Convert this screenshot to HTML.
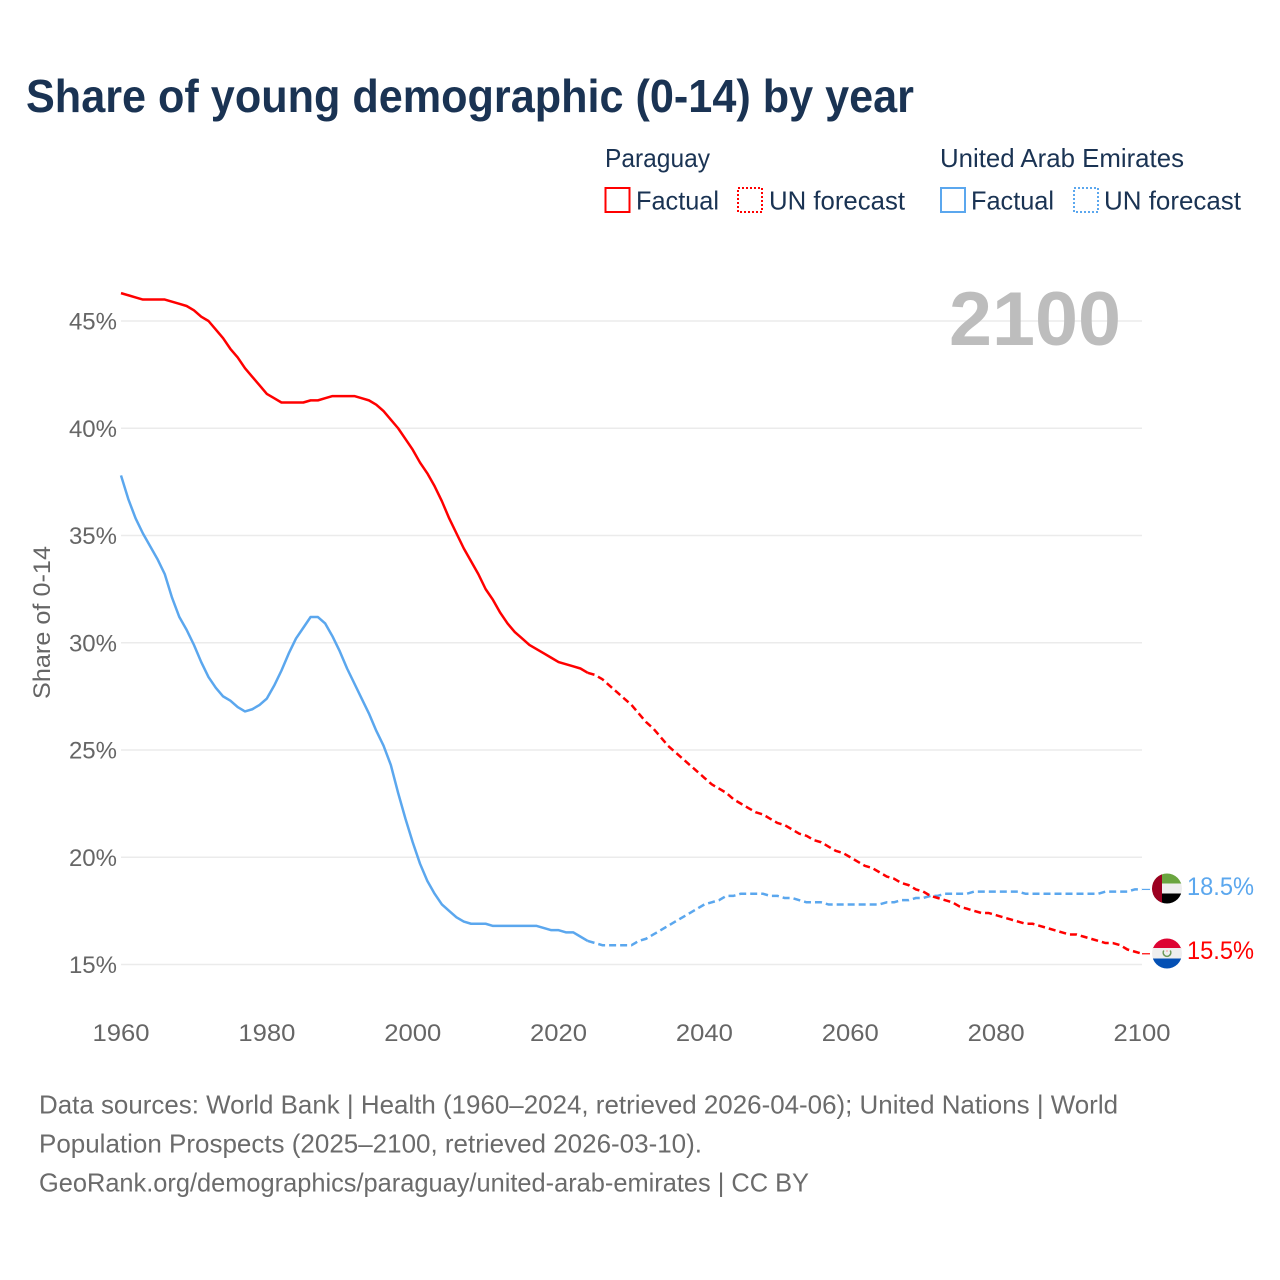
<!DOCTYPE html>
<html lang="en">
<head>
<meta charset="utf-8">
<title>Share of young demographic (0-14) by year</title>
<style>
html,body{margin:0;padding:0;background:#fff;}
#chart{display:block;width:1280px;height:1280px;font-family:"Liberation Sans",sans-serif;}
</style>
</head>
<body>
<svg id="chart" xmlns="http://www.w3.org/2000/svg" width="1280" height="1280" viewBox="0 0 1280 1280">
  <defs>
    <clipPath id="clip-uae"><circle cx="1167" cy="888.5" r="15"/></clipPath>
    <clipPath id="clip-py"><circle cx="1167" cy="953.5" r="15"/></clipPath>
  </defs>
  <rect width="1280" height="1280" fill="#fff"/>
  <text x="26" y="112" font-size="46" font-weight="700" fill="#1a3353" textLength="888" lengthAdjust="spacingAndGlyphs">Share of young demographic (0-14) by year</text>

  <g font-size="26" fill="#1a3353">
    <text x="605" y="167" textLength="105" lengthAdjust="spacingAndGlyphs">Paraguay</text>
    <rect x="605.5" y="188" width="24" height="24" fill="none" stroke="#ff0000" stroke-width="2"/>
    <text x="636" y="209.5" textLength="83" lengthAdjust="spacingAndGlyphs">Factual</text>
    <rect x="738" y="188" width="24" height="24" fill="none" stroke="#ff0000" stroke-width="2" stroke-dasharray="2 2"/>
    <text x="769" y="209.5" textLength="136" lengthAdjust="spacingAndGlyphs">UN forecast</text>
    <text x="940" y="167" textLength="244" lengthAdjust="spacingAndGlyphs">United Arab Emirates</text>
    <rect x="941" y="188" width="24" height="24" fill="none" stroke="#5ba7ee" stroke-width="2"/>
    <text x="971" y="209.5" textLength="83" lengthAdjust="spacingAndGlyphs">Factual</text>
    <rect x="1074" y="188" width="24" height="24" fill="none" stroke="#5ba7ee" stroke-width="2" stroke-dasharray="2 2"/>
    <text x="1104" y="209.5" textLength="137" lengthAdjust="spacingAndGlyphs">UN forecast</text>
  </g>

  <g id="grid"></g>
  <g id="y-ticks"></g>
  <g id="x-ticks"></g>
  <text transform="translate(50,622.5) rotate(-90)" text-anchor="middle" font-size="24" fill="#666666" textLength="153" lengthAdjust="spacingAndGlyphs">Share of 0-14</text>
  <text x="949" y="345" font-size="76" font-weight="700" fill="#bdbdbd" textLength="172" lengthAdjust="spacingAndGlyphs">2100</text>
  <g id="series"></g>

  <g clip-path="url(#clip-uae)">
    <rect x="1152" y="873" width="30" height="11" fill="#6aa53f"/>
    <rect x="1152" y="883.5" width="30" height="10.5" fill="#eeeeee"/>
    <rect x="1152" y="893.5" width="30" height="11" fill="#000000"/>
    <rect x="1152" y="873" width="10" height="31" fill="#9c0020"/>
  </g>
  <g clip-path="url(#clip-py)">
    <rect x="1152" y="938" width="30" height="11" fill="#dd0433"/>
    <rect x="1152" y="948" width="30" height="11" fill="#eeeeee"/>
    <rect x="1152" y="958.5" width="30" height="11" fill="#0450b4"/>
    <path d="M1163.8 950.5 A3.8 3.8 0 1 0 1170.2 950.5" fill="none" stroke="#6f9a5a" stroke-width="1.6"/>
    <circle cx="1167" cy="951" r="1" fill="#f5b5b5"/>
  </g>
  <text id="value-uae" x="1187" y="895" font-size="25" fill="#5ba7ee" textLength="67" lengthAdjust="spacingAndGlyphs"></text>
  <text id="value-py" x="1187" y="959" font-size="25" fill="#ff0000" textLength="67" lengthAdjust="spacingAndGlyphs"></text>

  <g font-size="26" fill="#6b6b6b">
    <text x="39" y="1113.5" textLength="1079" lengthAdjust="spacingAndGlyphs">Data sources: World Bank | Health (1960–2024, retrieved 2026-04-06); United Nations | World</text>
    <text x="39" y="1152.5" textLength="663" lengthAdjust="spacingAndGlyphs">Population Prospects (2025–2100, retrieved 2026-03-10).</text>
    <text x="39" y="1191.5" textLength="770" lengthAdjust="spacingAndGlyphs">GeoRank.org/demographics/paraguay/united-arab-emirates | CC BY</text>
  </g>
</svg>
<script>
const yTickValues = [15, 20, 25, 30, 35, 40, 45];
const xTickYears = [1960, 1980, 2000, 2020, 2040, 2060, 2080, 2100];
const factualStartYear = 1960;
const forecastStartYear = 2024;
const paraguayFactual = [46.3,46.2,46.1,46.0,46.0,46.0,46.0,45.9,45.8,45.7,45.5,45.2,45.0,44.6,44.2,43.7,43.3,42.8,42.4,42.0,41.6,41.4,41.2,41.2,41.2,41.2,41.3,41.3,41.4,41.5,41.5,41.5,41.5,41.4,41.3,41.1,40.8,40.4,40.0,39.5,39.0,38.4,37.9,37.3,36.6,35.8,35.1,34.4,33.8,33.2,32.5,32.0,31.4,30.9,30.5,30.2,29.9,29.7,29.5,29.3,29.1,29.0,28.9,28.8,28.6];
const paraguayForecast = [28.6,28.5,28.3,28.0,27.7,27.4,27.1,26.7,26.3,26.0,25.6,25.2,24.9,24.6,24.3,24.0,23.7,23.4,23.2,23.0,22.7,22.5,22.3,22.1,22.0,21.8,21.6,21.5,21.3,21.1,21.0,20.8,20.7,20.5,20.3,20.2,20.0,19.8,19.6,19.5,19.3,19.1,19.0,18.8,18.7,18.5,18.4,18.2,18.1,18.0,17.9,17.7,17.6,17.5,17.4,17.4,17.3,17.2,17.1,17.0,16.9,16.9,16.8,16.7,16.6,16.5,16.4,16.4,16.3,16.2,16.1,16.0,16.0,15.9,15.7,15.6,15.5];
const uaeFactual = [37.8,36.7,35.8,35.1,34.5,33.9,33.2,32.1,31.2,30.6,29.9,29.1,28.4,27.9,27.5,27.3,27.0,26.8,26.9,27.1,27.4,28.0,28.7,29.5,30.2,30.7,31.2,31.2,30.9,30.3,29.6,28.8,28.1,27.4,26.7,25.9,25.2,24.3,23.0,21.8,20.7,19.7,18.9,18.3,17.8,17.5,17.2,17.0,16.9,16.9,16.9,16.8,16.8,16.8,16.8,16.8,16.8,16.8,16.7,16.6,16.6,16.5,16.5,16.3,16.1];
const uaeForecast = [16.1,16.0,15.9,15.9,15.9,15.9,15.9,16.1,16.2,16.4,16.6,16.8,17.0,17.2,17.4,17.6,17.8,17.9,18.0,18.2,18.2,18.3,18.3,18.3,18.3,18.2,18.2,18.1,18.1,18.0,17.9,17.9,17.9,17.8,17.8,17.8,17.8,17.8,17.8,17.8,17.8,17.9,17.9,18.0,18.0,18.1,18.1,18.2,18.2,18.3,18.3,18.3,18.3,18.4,18.4,18.4,18.4,18.4,18.4,18.4,18.3,18.3,18.3,18.3,18.3,18.3,18.3,18.3,18.3,18.3,18.3,18.4,18.4,18.4,18.4,18.5,18.5];
const uaeEndLabel = "18.5%";
const paraguayEndLabel = "15.5%";

const NS = "http://www.w3.org/2000/svg";
function xScale(year) { return 121 + (year - 1960) * (1142 - 121) / 140; }
function yScale(v) { return 964.5 - (v - 15) * 21.45; }
function makeEl(tag, parentId) {
  const el = document.createElementNS(NS, tag);
  document.getElementById(parentId).appendChild(el);
  return el;
}
function pathFrom(values, startYear) {
  return values.map(function (v, i) {
    return (i ? "L" : "M") + xScale(startYear + i).toFixed(2) + " " + yScale(v).toFixed(2);
  }).join(" ");
}
yTickValues.forEach(function (t) {
  const line = makeEl("line", "grid");
  
  
  line.setAttribute("x1", xScale(1960));
  line.setAttribute("x2", xScale(2100));
  line.setAttribute("y1", yScale(t));
  line.setAttribute("y2", yScale(t));
  line.setAttribute("stroke", "#ebebeb");
  line.setAttribute("stroke-width", "1.6");
  const label = makeEl("text", "y-ticks");
  
  
  label.setAttribute("x", 117);
  label.setAttribute("y", yScale(t) + 8.5);
  label.setAttribute("text-anchor", "end");
  label.setAttribute("font-size", "24");
  label.setAttribute("fill", "#666666");
  label.textContent = t + "%";
});
xTickYears.forEach(function (y) {
  const label = makeEl("text", "x-ticks");
  
  
  label.setAttribute("x", xScale(y));
  label.setAttribute("y", 1041);
  label.setAttribute("text-anchor", "middle");
  label.setAttribute("font-size", "24");
  label.setAttribute("fill", "#666666");
  label.setAttribute("textLength", "57");
  label.setAttribute("lengthAdjust", "spacingAndGlyphs");
  label.textContent = y;
});
function drawLine(values, startYear, color, dashed, name) {
  const p = makeEl("path", "series");
  
  
  p.setAttribute("d", pathFrom(values, startYear));
  p.setAttribute("fill", "none");
  p.setAttribute("stroke", color);
  p.setAttribute("stroke-width", "2.5");
  p.setAttribute("stroke-linejoin", "round");
  if (dashed) { p.setAttribute("stroke-dasharray", "7 4"); }
}
function drawLeader(lastValue, color, name) {
  const l = makeEl("line", "series");
  
  
  l.setAttribute("x1", xScale(2100));
  l.setAttribute("x2", xScale(2100) + 8);
  l.setAttribute("y1", yScale(lastValue));
  l.setAttribute("y2", yScale(lastValue));
  l.setAttribute("stroke", color);
  l.setAttribute("stroke-width", "1.2");
}
drawLine(uaeFactual, factualStartYear, "#5ba7ee", false, "line-uae-factual");
drawLine(uaeForecast, forecastStartYear, "#5ba7ee", true, "line-uae-forecast");
drawLine(paraguayFactual, factualStartYear, "#ff0000", false, "line-paraguay-factual");
drawLine(paraguayForecast, forecastStartYear, "#ff0000", true, "line-paraguay-forecast");
drawLeader(uaeForecast[uaeForecast.length - 1], "#5ba7ee", "leader-uae");
drawLeader(paraguayForecast[paraguayForecast.length - 1], "#ff0000", "leader-paraguay");
document.getElementById("value-uae").textContent = uaeEndLabel;
document.getElementById("value-py").textContent = paraguayEndLabel;
</script>
</body>
</html>
